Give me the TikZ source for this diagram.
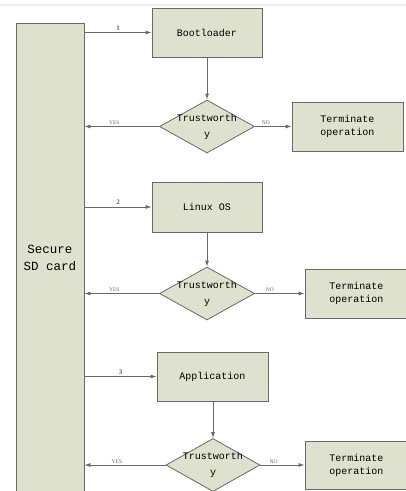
\documentclass[tikz,border=0pt]{standalone}
\usepackage{fontspec}
\newfontfamily\boxfont{Liberation Mono}
\newfontfamily\tagfont{Liberation Serif}
\definecolor{boxfill}{RGB}{221,225,205}
\definecolor{edge}{RGB}{105,105,105}
\usetikzlibrary{arrows.meta,positioning,shapes.geometric}
\tikzset{
  block/.style={draw=edge, line width=0.8pt, fill=boxfill, inner sep=2pt,
              font=\boxfont\fontsize{10}{13}\selectfont, align=center,
              minimum width=110pt, minimum height=49pt},
  decision/.style={diamond, draw=edge, line width=0.8pt, fill=boxfill, inner sep=0pt,
              minimum width=95pt, minimum height=53pt,
              label={[font=\boxfont\fontsize{10}{16}\selectfont, align=center]center:Trustworth\\y}},
  flow/.style={-{Latex[length=6pt,width=4pt]}, edge, line width=0.8pt},
  tag/.style={font=\tagfont\fontsize{5.5}{6}\selectfont, text=edge, inner sep=1.5pt},
  step no/.style={font=\tagfont\bfseries\fontsize{7}{8}\selectfont, inner sep=2pt},
}
\begin{document}
\begin{tikzpicture}[x=1pt, y=-1pt]
    \useasboundingbox (0,0) rectangle (406,491);
    \draw[black!7, line width=1.5pt] (0,5) -- (406,5);

    \node[block, minimum width=68pt, minimum height=470pt,
          font=\boxfont\fontsize{12.5}{17}\selectfont] (sd) at (50,258) {Secure\\SD card};

    % stage 1
    \node[block] (boot) at (207,32.5) {Bootloader};
    \node[decision] (chk1) at (207,126.5) {};
    \node[block, minimum width=111pt] (stop1) at (347.5,126.5) {Terminate\\operation};

    % stage 2
    \node[block, minimum height=50pt] (linux) at (207,207) {Linux OS};
    \node[decision] (chk2) at (207,293.5) {};
    \node[block, minimum width=103pt] (stop2) at (356.5,293.5) {Terminate\\operation};

    % stage 3
    \node[block, minimum width=111pt] (app) at (212.5,376.5) {Application};
    \node[decision, minimum width=94pt] (chk3) at (213,465) {};
    \node[block, minimum width=103pt, minimum height=48pt] (stop3) at (356.5,465) {Terminate\\operation};

    \draw[flow] (sd.east |- boot.west) -- node[step no, above] {1} (boot.west);
    \draw[flow] (boot) -- (chk1);
    \draw[flow] (chk1.west) -- node[tag, above, pos=0.6] {YES} (chk1.west -| sd.east);
    \draw[flow] (chk1.east) -- node[tag, above, pos=0.3] {NO} (stop1.west);

    \draw[flow] (sd.east |- linux.west) -- node[step no, above] {2} (linux.west);
    \draw[flow] (linux) -- (chk2);
    \draw[flow] (chk2.west) -- node[tag, above, pos=0.6] {YES} (chk2.west -| sd.east);
    \draw[flow] (chk2.east) -- node[tag, above, pos=0.3] {NO} (stop2.west);

    \draw[flow] (sd.east |- app.west) -- node[step no, above] {3} (app.west);
    \draw[flow] (app.south -| chk3.north) -- (chk3);
    \draw[flow] (chk3.west) -- node[tag, above, pos=0.6] {YES} (chk3.west -| sd.east);
    \draw[flow] (chk3.east) -- node[tag, above, pos=0.3] {NO} (stop3.west);
\end{tikzpicture}
\end{document}
